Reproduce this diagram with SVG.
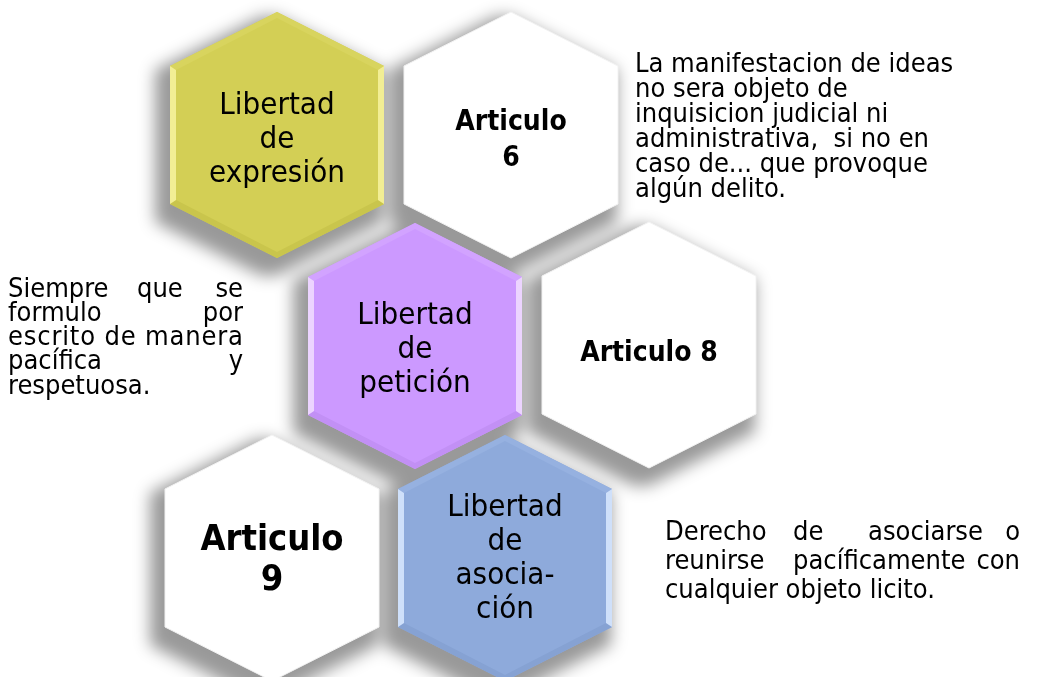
<svg xmlns="http://www.w3.org/2000/svg" xmlns:xlink="http://www.w3.org/1999/xlink" width="1039" height="677" viewBox="0 0 1039 677">
<style>
.t{font-family:"DejaVu Sans Condensed","DejaVu Sans",Verdana,sans-serif;font-stretch:condensed;fill:#000}
.hx{font-size:31px;text-anchor:middle}
.ar{font-size:28px;font-weight:bold;text-anchor:middle}
.ar9{font-size:36px;font-weight:bold;text-anchor:middle}
.p{font-size:27px}
.e{text-anchor:end}
.w{fill:#fff;stroke:#f2f2f2;stroke-width:1}
.yl{fill:#f2ee94}.ym{fill:#d3cf55}.yd{fill:#c9c54c}.yt{fill:#d8d45e}
.pl{fill:#ecd4ff}.pm{fill:#cc99ff}.pd{fill:#c290f5}.pt{fill:#d2a3ff}
.bl{fill:#cfe0fa}.bm{fill:#8eaadb}.bd{fill:#86a2d3}.bt{fill:#96b1e0}
</style>
<defs>
<polygon id="hex" points="0,-123 107,-69 107,69 0,123 -107,69 -107,-69"/>
<polygon id="bvL" points="-107,-69 -101,-65 -101,65 -107,69"/>
<polygon id="bvR" points="107,-69 101,-65 101,65 107,69"/>
<polygon id="bvT" points="-107,-69 0,-123 107,-69 101,-65 0,-117 -101,-65"/>
<polygon id="bvB" points="-107,69 0,123 107,69 101,65 0,117 -101,65"/>
<filter id="sh" x="-30%" y="-30%" width="160%" height="160%">
<feMorphology in="SourceAlpha" operator="dilate" radius="7" result="d"/>
<feGaussianBlur in="d" stdDeviation="8" result="b"/>
<feOffset in="b" dx="-8" dy="11" result="o"/>
<feFlood flood-color="#000" flood-opacity="0.4"/>
<feComposite in2="o" operator="in"/>
</filter>
</defs>
<rect width="1039" height="677" fill="#fff"/>
<g id="shadows" filter="url(#sh)">
<use href="#hex" x="277" y="135"/>
<use href="#hex" x="511" y="135"/>
<use href="#hex" x="415" y="346"/>
<use href="#hex" x="649" y="345"/>
<use href="#hex" x="272" y="558"/>
<use href="#hex" x="505" y="558"/>
</g>
<g id="connectors"/>
<g id="node-expresion">
<g transform="translate(277,135)">
<use href="#hex" class="ym"/><use href="#bvT" class="yt"/><use href="#bvB" class="yd"/><use href="#bvL" class="yl"/><use href="#bvR" class="yl"/>
</g>
<text class="t hx"><tspan x="277" y="114">Libertad</tspan><tspan x="277" y="148">de</tspan><tspan x="277" y="182">expresión</tspan></text>
</g>
<g id="node-art6">
<use href="#hex" x="511" y="135" class="w"/>
<text class="t ar"><tspan x="511" y="130">Articulo</tspan><tspan x="511" y="166">6</tspan></text>
</g>
<g id="node-peticion">
<g transform="translate(415,346)">
<use href="#hex" class="pm"/><use href="#bvT" class="pt"/><use href="#bvB" class="pd"/><use href="#bvL" class="pl"/><use href="#bvR" class="pl"/>
</g>
<text class="t hx"><tspan x="415" y="324">Libertad</tspan><tspan x="415" y="358">de</tspan><tspan x="415" y="392">petición</tspan></text>
</g>
<g id="node-art8">
<use href="#hex" x="649" y="345" class="w"/>
<text class="t ar" x="649" y="361">Articulo 8</text>
</g>
<g id="node-art9">
<use href="#hex" x="272" y="558" class="w"/>
<text class="t ar9"><tspan x="272" y="550">Articulo</tspan><tspan x="272" y="590">9</tspan></text>
</g>
<g id="node-asociacion">
<g transform="translate(505,558)">
<use href="#hex" class="bm"/><use href="#bvT" class="bt"/><use href="#bvB" class="bd"/><use href="#bvL" class="bl"/><use href="#bvR" class="bl"/>
</g>
<text class="t hx"><tspan x="505" y="516">Libertad</tspan><tspan x="505" y="550">de</tspan><tspan x="505" y="584">asocia-</tspan><tspan x="505" y="618">ción</tspan></text>
</g>
<g id="note-art6">
<text class="t p"><tspan x="635" y="72">La manifestacion de ideas</tspan><tspan x="635" y="97">no sera objeto de</tspan><tspan x="635" y="122">inquisicion judicial ni</tspan><tspan x="635" y="147" style="white-space:pre">administrativa,  si no en</tspan><tspan x="635" y="172">caso de... que provoque</tspan><tspan x="635" y="197">algún delito.</tspan></text>
</g>
<g id="note-art8">
<text class="t p" x="8" y="297">Siempre</text>
<text class="t p" x="137" y="297">que</text>
<text class="t p e" x="243" y="297">se</text>
<text class="t p" x="8" y="321">formulo</text>
<text class="t p e" x="243" y="321">por</text>
<text class="t p" x="8" y="345" textLength="235" lengthAdjust="spacing">escrito de manera</text>
<text class="t p" x="8" y="369">pacífica</text>
<text class="t p e" x="243" y="369">y</text>
<text class="t p" x="8" y="394">respetuosa.</text>
</g>
<g id="note-art9">
<text class="t p" x="665" y="540">Derecho</text>
<text class="t p" x="793" y="540">de</text>
<text class="t p" x="868" y="540">asociarse</text>
<text class="t p e" x="1020" y="540">o</text>
<text class="t p" x="665" y="569">reunirse</text>
<text class="t p" x="793" y="569">pacíficamente</text>
<text class="t p e" x="1020" y="569">con</text>
<text class="t p" x="665" y="598">cualquier objeto licito.</text>
</g>
</svg>
